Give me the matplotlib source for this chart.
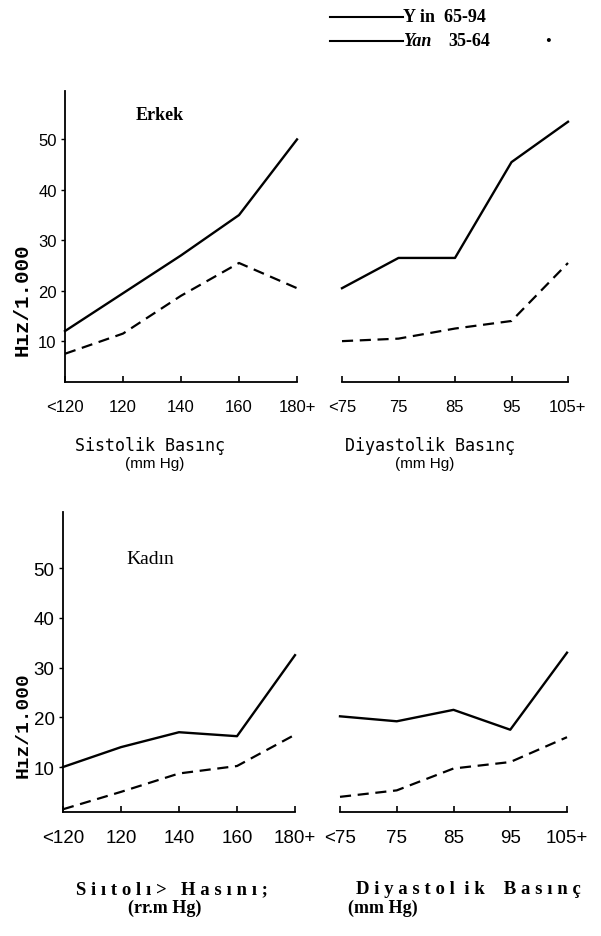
import matplotlib.pyplot as plt
from matplotlib.lines import Line2D

W, H = 601, 937

sis_labels = ["<120", "120", "140", "160", "180+"]
dia_labels = ["<75", "75", "85", "95", "105+"]
y_ticks = [10, 20, 30, 40, 50]

# Erkek (üst)
erkek_sis_65_94 = [12, 19.5, 27, 35, 50]
erkek_sis_35_64 = [7.5, 11.5, 19, 25.5, 20.5]
erkek_dia_65_94 = [20.5, 26.5, 26.5, 45.5, 53.5]
erkek_dia_35_64 = [10, 10.5, 12.5, 14, 25.5]

# Kadın (alt)
kadin_sis_65_94 = [10, 14, 17, 16.2, 32.5]
kadin_sis_35_64 = [1.5, 5, 8.7, 10.2, 16.5]
kadin_dia_65_94 = [20.2, 19.2, 21.5, 17.5, 33]
kadin_dia_35_64 = [4, 5.3, 9.7, 11, 16]

fig = plt.figure(figsize=(W / 100, H / 100), dpi=100)


def box(x0, y0, x1, y1):
    return [x0 / W, 1 - y1 / H, (x1 - x0) / W, (y1 - y0) / H]


def ftext(x, y, s, **kw):
    fig.text(x / W, 1 - y / H, s, ha="center", va="center", **kw)


def panel(rect, labels, solid, dashed, ylim, show_y, tick_size):
    ax = fig.add_axes(rect)
    x = list(range(len(labels)))
    ax.plot(x, solid, color="black", lw=1.7, clip_on=False)
    ax.plot(x, dashed, color="black", lw=1.6, linestyle=(0, (5, 3)), clip_on=False)
    ax.set_xlim(0, len(labels) - 1)
    ax.set_ylim(*ylim)
    for s in ["top", "right"]:
        ax.spines[s].set_visible(False)
    ax.spines["bottom"].set_linewidth(1.3)
    ax.spines["left"].set_linewidth(1.3)
    ax.set_xticks(x)
    ax.set_xticklabels(labels, family="Liberation Sans", fontsize=tick_size)
    ax.tick_params(axis="x", direction="in", length=4, width=1.2, pad=12)
    if show_y:
        ax.set_yticks(y_ticks)
        ax.set_yticklabels([str(v) for v in y_ticks], family="Liberation Sans",
                           fontsize=tick_size)
        ax.tick_params(axis="y", direction="out", length=3, width=1, pad=3)
    else:
        ax.spines["left"].set_visible(False)
        ax.set_yticks([])
    return ax


panel(box(65, 92, 297, 383), sis_labels, erkek_sis_65_94, erkek_sis_35_64,
      (1.9, 59.6), True, 12)
panel(box(342, 92, 568, 383), dia_labels, erkek_dia_65_94, erkek_dia_35_64,
      (1.9, 59.6), False, 12)
panel(box(63, 513, 295, 813), sis_labels, kadin_sis_65_94, kadin_sis_35_64,
      (0.95, 61.3), True, 13.5)
panel(box(340, 513, 567, 813), dia_labels, kadin_dia_65_94, kadin_dia_35_64,
      (0.95, 61.3), False, 13.5)

# legend
for y in (18, 42):
    fig.add_artist(Line2D([330 / W, 403 / W], [1 - y / H, 1 - y / H],
                          transform=fig.transFigure, color="black", lw=1.5))
fig.text(403 / W, 1 - 18 / H, "Y in  65-94", ha="left", va="center",
         family="Liberation Serif", weight="bold", fontsize=13)
fig.text(403 / W, 1 - 42 / H, "Yan", ha="left", va="center",
         family="Liberation Serif", weight="bold", style="italic", fontsize=13)
fig.text(448 / W, 1 - 42 / H, "35-64", ha="left", va="center",
         family="Liberation Serif", weight="bold", fontsize=13)
ftext(548, 42, "•", family="Liberation Serif", fontsize=12)

# panel titles
ftext(160, 115, "Erkek", family="Liberation Serif", weight="bold", fontsize=13)
ftext(150, 560, "Kadın", family="Liberation Serif", fontsize=14)

# y labels
ftext(22, 300, "Hız/1.000", rotation=90, family="Liberation Mono",
      weight="bold", fontsize=15)
ftext(23, 725, "Hız/1.000", rotation=90, family="Liberation Mono",
      weight="bold", fontsize=14)

# x labels top
ftext(150, 446, "Sistolik Basınç", family="DejaVu Sans Mono", fontsize=12)
ftext(155, 464, "(mm Hg)", family="Liberation Sans", fontsize=11)
ftext(430, 446, "Diyastolik Basınç", family="DejaVu Sans Mono", fontsize=12)
ftext(425, 464, "(mm Hg)", family="Liberation Sans", fontsize=11)

# x labels bottom
ftext(172, 890, "S i ı t o l ı >   H a s ı n ı ;", family="Liberation Serif",
      weight="bold", fontsize=13.5)
ftext(165, 908, "(rr.m Hg)", family="Liberation Serif", weight="bold", fontsize=13)
ftext(468, 890, "D i y a s t o l  i k    B a s ı n ç", family="Liberation Serif",
      weight="bold", fontsize=13.5)
ftext(383, 908, "(mm Hg)", family="Liberation Serif", weight="bold", fontsize=13)

fig.savefig("out.png", dpi=100)
